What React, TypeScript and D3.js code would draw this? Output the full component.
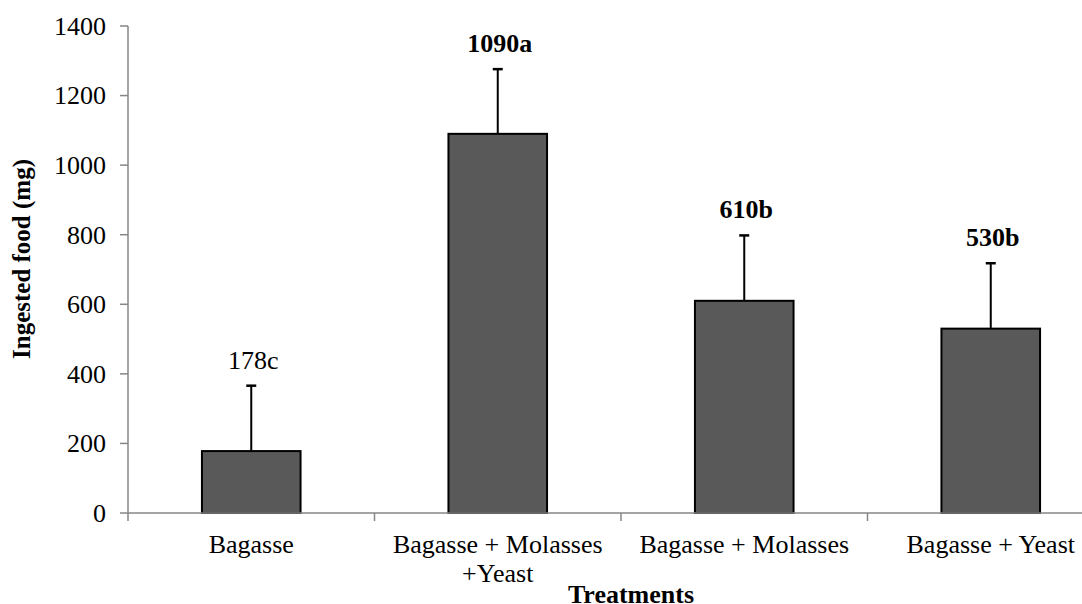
import React from "react";
import * as d3 from "d3";

const categories = ["Bagasse", "Bagasse + Molasses +Yeast", "Bagasse + Molasses", "Bagasse + Yeast"];
const tickLabels = [["Bagasse"], ["Bagasse + Molasses", "+Yeast"], ["Bagasse + Molasses"], ["Bagasse + Yeast"]];
const means = [178, 1090, 610, 530];
const errors = [188, 186, 188, 188];
const letters = ["178c", "1090a", "610b", "530b"];
const boldLabel = [false, true, true, true];
const yTicks = [0, 200, 400, 600, 800, 1000, 1200, 1400];

const font = "'Liberation Serif', 'Times New Roman', serif";

const App = () => {
  const width = 1082,
    height = 604;
  const left = 128,
    right = 1114,
    top = 26,
    bottom = 513;

  const x = d3
    .scaleBand()
    .domain(categories)
    .range([left, right])
    .paddingInner(0.6)
    .paddingOuter(0.3);
  const y = d3.scaleLinear().domain([0, 1400]).range([bottom, top]);

  const gap = (x.step() - x.bandwidth()) / 2;
  const boundaries = categories.map(c => (x(c) as number) - gap);
  boundaries.push(right);

  const axisColor = "#868686";

  return (
    <svg
      width={width}
      height={height}
      style={{ position: "absolute", left: 0, top: 0, background: "#fff" }}
    >
      {/* y axis */}
      <line x1={left} x2={left} y1={y(1400)} y2={y(0)} stroke={axisColor} strokeWidth={1.5} />
      {yTicks.map(t => (
        <g key={t}>
          <line x1={left - 8} x2={left} y1={y(t)} y2={y(t)} stroke={axisColor} strokeWidth={1.5} />
          <text
            x={106}
            y={y(t)}
            dy="0.34em"
            textAnchor="end"
            fontFamily={font}
            fontSize={26}
            fill="#000"
          >
            {t}
          </text>
        </g>
      ))}

      {/* bars */}
      {categories.map((c, i) => {
        const bx = x(c) as number;
        const cx = bx + x.bandwidth() / 2;
        const topErr = y(means[i] + errors[i]);
        return (
          <g key={c}>
            <line x1={cx} x2={cx} y1={y(means[i])} y2={topErr} stroke="#000" strokeWidth={2} />
            <line x1={cx - 5} x2={cx + 5} y1={topErr} y2={topErr} stroke="#000" strokeWidth={2.5} />
            <rect
              x={bx}
              y={y(means[i])}
              width={x.bandwidth()}
              height={y(0) - y(means[i])}
              fill="#595959"
              stroke="#000"
              strokeWidth={2}
            />
            <text
              x={cx + 2}
              y={topErr - 17}
              textAnchor="middle"
              fontFamily={font}
              fontSize={26}
              fontWeight={boldLabel[i] ? "bold" : "normal"}
              fill="#000"
            >
              {letters[i]}
            </text>
            {tickLabels[i].map((line, j) => (
              <text
                key={j}
                x={cx}
                y={bottom + 40 + j * 29}
                textAnchor="middle"
                fontFamily={font}
                fontSize={26}
                fill="#000"
              >
                {line}
              </text>
            ))}
          </g>
        );
      })}

      {/* x axis */}
      <line x1={left} x2={right} y1={y(0)} y2={y(0)} stroke={axisColor} strokeWidth={1.5} />
      {boundaries.map((b, i) => (
        <line key={i} x1={b} x2={b} y1={y(0)} y2={y(0) + 8} stroke={axisColor} strokeWidth={1.5} />
      ))}

      {/* titles */}
      <text
        x={631}
        y={603}
        textAnchor="middle"
        fontFamily={font}
        fontSize={26}
        fontWeight="bold"
        fill="#000"
      >
        Treatments
      </text>
      <text
        transform={`translate(30,259) rotate(-90)`}
        textAnchor="middle"
        fontFamily={font}
        fontSize={25}
        fontWeight="bold"
        fill="#000"
      >
        Ingested food (mg)
      </text>
    </svg>
  );
};

export default App;
